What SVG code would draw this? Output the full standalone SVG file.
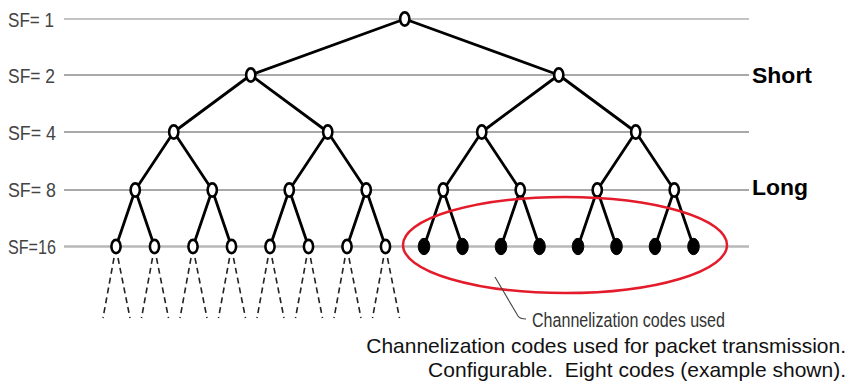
<svg xmlns="http://www.w3.org/2000/svg" width="862" height="384" viewBox="0 0 862 384">
  <style>
    .level { stroke: #a9a9a9; stroke-width: 2; fill: none; }
    .sf { font-family: "Liberation Sans", Arial, sans-serif; font-size: 19.5px; fill: #444; }
    .edge { stroke: #000; stroke-width: 2.8; fill: none; stroke-linecap: round; }
    .dash { stroke: #222; stroke-width: 1.6; fill: none; stroke-dasharray: 6 4; }
    .open { fill: #fff; stroke: #000; stroke-width: 2.6; }
    .used { fill: #000; stroke: #000; stroke-width: 1; }
    .tag { font-family: "Liberation Sans", Arial, sans-serif; font-size: 22px; font-weight: bold; fill: #000; }
    .note { font-family: "Liberation Sans", Arial, sans-serif; font-size: 20.5px; fill: #333; }
    .caption { font-family: "Liberation Sans", Arial, sans-serif; font-size: 21px; fill: #111; }
  </style>
  <defs>
    <ellipse id="nodeOpen" class="open" cx="0" cy="0" rx="4.6" ry="6.6"/>
    <ellipse id="nodeUsed" class="used" cx="0" cy="0" rx="5.8" ry="8.2"/>
  </defs>

  <rect width="862" height="384" fill="#fff"/>

  <!-- spreading-factor levels -->
  <g id="levels">
    <line class="level" x1="64" y1="19" x2="749" y2="19" style="stroke:#c4c4c4"/>
    <line class="level" x1="64" y1="75" x2="749" y2="75"/>
    <line class="level" x1="64" y1="132" x2="749" y2="132"/>
    <line class="level" x1="64" y1="190" x2="749" y2="190"/>
    <line class="level" x1="64" y1="246.5" x2="749" y2="246.5" style="stroke:#b8b8b8;stroke-width:2.5"/>
    <text class="sf" x="8" y="27" textLength="46" lengthAdjust="spacingAndGlyphs">SF= 1</text>
    <text class="sf" x="8" y="83" textLength="47" lengthAdjust="spacingAndGlyphs">SF= 2</text>
    <text class="sf" x="8" y="140" textLength="48" lengthAdjust="spacingAndGlyphs">SF= 4</text>
    <text class="sf" x="8" y="197" textLength="48" lengthAdjust="spacingAndGlyphs">SF= 8</text>
    <text class="sf" x="8" y="254" textLength="48" lengthAdjust="spacingAndGlyphs">SF=16</text>
  </g>

  <!-- connectors of the code tree -->
  <g id="connectors">
    <path class="edge" d="M404.75,19 L250.75,75 M404.75,19 L558.75,75"/>
    <path class="edge" d="M250.75,75 L173.75,132 M250.75,75 L327.75,132 M558.75,75 L481.75,132 M558.75,75 L635.75,132"/>
    <path class="edge" d="M173.75,132 L135.25,190 M173.75,132 L212.25,190 M327.75,132 L289.25,190 M327.75,132 L366.25,190 M481.75,132 L443.25,190 M481.75,132 L520.25,190 M635.75,132 L597.25,190 M635.75,132 L674.25,190"/>
    <path class="edge" d="M135.25,190 L116,246.5 M135.25,190 L154.5,246.5 M212.25,190 L193,246.5 M212.25,190 L231.5,246.5 M289.25,190 L270,246.5 M289.25,190 L308.5,246.5 M366.25,190 L347,246.5 M366.25,190 L385.5,246.5"/>
    <path class="edge" d="M443.25,190 L424,246.5 M443.25,190 L462.5,246.5 M520.25,190 L501,246.5 M520.25,190 L539.5,246.5 M597.25,190 L578,246.5 M597.25,190 L616.5,246.5 M674.25,190 L655,246.5 M674.25,190 L693.5,246.5"/>
    <!-- further branches below SF=16 -->
    <path class="dash" d="M114,258 L103,318 M118,258 L130,318 M152.5,258 L141.5,318 M156.5,258 L168.5,318 M191,258 L180,318 M195,258 L207,318 M229.5,258 L218.5,318 M233.5,258 L245.5,318 M268,258 L257,318 M272,258 L284,318 M306.5,258 L295.5,318 M310.5,258 L322.5,318 M345,258 L334,318 M349,258 L361,318 M383.5,258 L372.5,318 M387.5,258 L399.5,318"/>
  </g>

  <!-- nodes -->
  <g id="n-sf1"><use href="#nodeOpen" x="404.75" y="19"/></g>
  <g id="n-sf2"><use href="#nodeOpen" x="250.75" y="75"/><use href="#nodeOpen" x="558.75" y="75"/></g>
  <g id="n-sf4">
    <use href="#nodeOpen" x="173.75" y="132"/><use href="#nodeOpen" x="327.75" y="132"/>
    <use href="#nodeOpen" x="481.75" y="132"/><use href="#nodeOpen" x="635.75" y="132"/>
  </g>
  <g id="n-sf8">
    <use href="#nodeOpen" x="135.25" y="190"/><use href="#nodeOpen" x="212.25" y="190"/>
    <use href="#nodeOpen" x="289.25" y="190"/><use href="#nodeOpen" x="366.25" y="190"/>
    <use href="#nodeOpen" x="443.25" y="190"/><use href="#nodeOpen" x="520.25" y="190"/>
    <use href="#nodeOpen" x="597.25" y="190"/><use href="#nodeOpen" x="674.25" y="190"/>
  </g>
  <g id="n-sf16-free">
    <use href="#nodeOpen" x="116" y="246.5"/><use href="#nodeOpen" x="154.5" y="246.5"/>
    <use href="#nodeOpen" x="193" y="246.5"/><use href="#nodeOpen" x="231.5" y="246.5"/>
    <use href="#nodeOpen" x="270" y="246.5"/><use href="#nodeOpen" x="308.5" y="246.5"/>
    <use href="#nodeOpen" x="347" y="246.5"/><use href="#nodeOpen" x="385.5" y="246.5"/>
  </g>
  <g id="n-sf16-used">
    <use href="#nodeUsed" x="424" y="246.5"/><use href="#nodeUsed" x="462.5" y="246.5"/>
    <use href="#nodeUsed" x="501" y="246.5"/><use href="#nodeUsed" x="539.5" y="246.5"/>
    <use href="#nodeUsed" x="578" y="246.5"/><use href="#nodeUsed" x="616.5" y="246.5"/>
    <use href="#nodeUsed" x="655" y="246.5"/><use href="#nodeUsed" x="693.5" y="246.5"/>
  </g>

  <!-- highlight of the codes in use -->
  <g id="used-codes">
    <ellipse cx="565" cy="245" rx="162" ry="48" fill="none" stroke="#e31b2a" stroke-width="2.5"/>
    <path d="M495,277 L518,316 Q520,319 526,319" fill="none" stroke="#444" stroke-width="1.1"/>
    <text class="note" x="532" y="327" textLength="193" lengthAdjust="spacingAndGlyphs">Channelization codes used</text>
  </g>

  <g id="labels">
    <text class="tag" x="752" y="83" textLength="60" lengthAdjust="spacingAndGlyphs">Short</text>
    <text class="tag" x="752" y="195" textLength="56" lengthAdjust="spacingAndGlyphs">Long</text>
    <text class="caption" x="846" y="353" text-anchor="end">Channelization codes used for packet transmission.</text>
    <text class="caption" x="846" y="377" text-anchor="end" xml:space="preserve">Configurable.  Eight codes (example shown).</text>
  </g>
</svg>
